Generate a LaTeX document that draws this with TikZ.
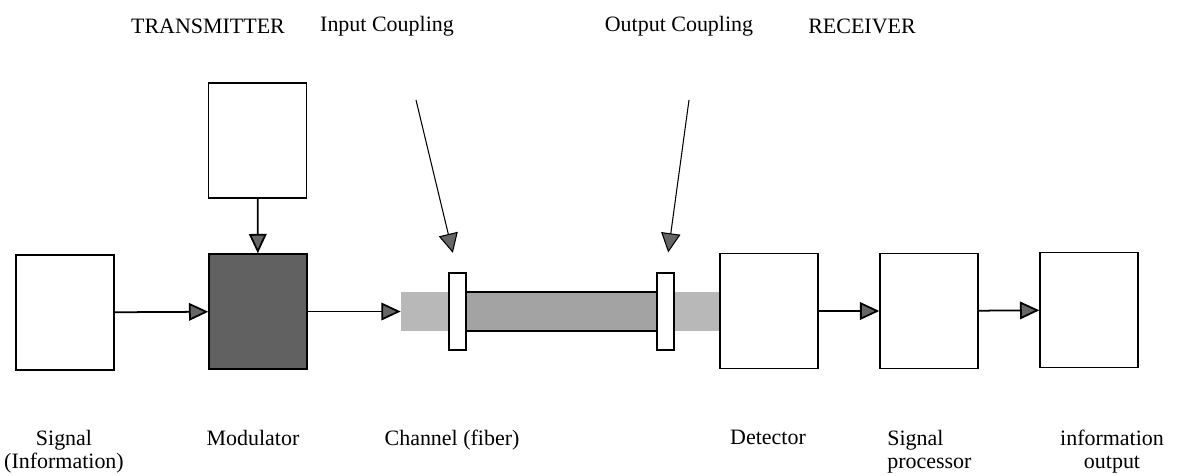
\documentclass[tikz,border=0pt]{standalone}
\usepackage{fontspec}
\setmainfont{Liberation Serif}
\usetikzlibrary{arrows.meta,positioning}
\tikzset{
  blockbox/.style={draw, line width=0.8pt, fill=white, inner sep=0pt,
                   minimum width=1.96cm, minimum height=2.3cm},
  modbox/.style={blockbox, fill=black!62},
  fiberbar/.style={fill=black!28, inner sep=0pt,
                   minimum width=6.38cm, minimum height=0.78cm},
  corebar/.style={draw, line width=0.8pt, fill=black!36, inner sep=0pt,
                  minimum width=3.82cm, minimum height=0.78cm},
  couplerbox/.style={draw, line width=0.8pt, fill=white, inner sep=0pt,
                     minimum width=0.34cm, minimum height=1.54cm},
  sigarrow/.style={-{Triangle[length=11pt, width=10pt, fill=black!60]}, line width=1pt},
  pointer/.style={-{Triangle[length=11pt, width=11pt, fill=black!60]},
                  line width=0.6pt, shorten >=0.4cm},
  lbl/.style={font=\fontsize{12.5}{13}\selectfont, align=center, inner sep=0pt}
}

\begin{document}
\begin{tikzpicture}[x=0.02cm, y=-0.02cm]
  \useasboundingbox (0,0) rectangle (1189,476);

  % transmitter side
  \node[blockbox] (sig) at (65,312.5) {};
  \node[modbox] (mod) at (258,311.5) {};
  \node[blockbox] (carrier) at (257.5,140.5) {};

  % channel with couplings
  \node[fiberbar] (fiber) at (560.5,311.5) {};
  \node[corebar] (core) at (561.5,311.5) {};
  \node[couplerbox] (inc) at (457.5,311.5) {};
  \node[couplerbox] (outc) at (665.5,311.5) {};

  % receiver side
  \node[blockbox] (det) at (769,311) {};
  \node[blockbox] (proc) at (929,311) {};
  \node[blockbox] (out) at (1089,310) {};

  \draw[sigarrow] (sig) -- (mod);
  \draw[sigarrow] (carrier) -- (mod);
  \draw[sigarrow] (mod) -- (fiber);
  \draw[sigarrow] (det) -- (proc);
  \draw[sigarrow] (proc) -- (out);

  \coordinate (inptr) at (416,100);
  \coordinate (outptr) at (689,100);
  \draw[pointer] (inptr) -- (inc.north);
  \draw[pointer] (outptr) -- (outc.north);

  % top labels
  \node[lbl] (txlbl) at (208,26) {TRANSMITTER};
  \node[lbl] (inlbl) at (387,26) {Input Coupling};
  \node[lbl] (outlbl) at (679,26) {Output Coupling};
  \node[lbl] (rxlbl) at (862,26) {RECEIVER};

  % bottom labels
  \node[lbl, anchor=north] (siglbl) at (64,430) {Signal\\(Information)};
  \node[lbl, anchor=north] (modlbl) at (253,430) {Modulator};
  \node[lbl, anchor=north] (chlbl) at (452,430) {Channel (fiber)};
  \node[lbl, anchor=north] (detlbl) at (768,430) {Detector};
  \node[lbl, anchor=north west, align=left] (proclbl) at (887,430) {Signal\\processor};
  \node[lbl, anchor=north] (outlbl2) at (1112,430) {information\\output};
\end{tikzpicture}
\end{document}
